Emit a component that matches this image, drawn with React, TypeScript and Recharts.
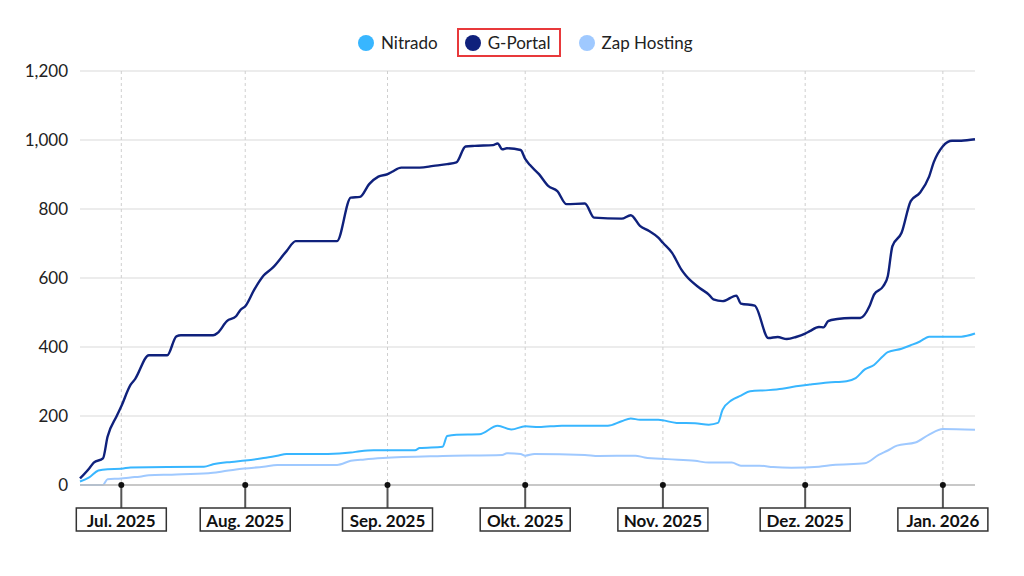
import React from "react";
import { LineChart, Line, XAxis, YAxis, CartesianGrid } from "recharts";

// Day index (collected days since start of series) and values
const gPortalDays = [0, 2, 3, 5, 6, 8, 9, 11, 12, 15, 19, 21, 22, 29, 30, 32, 34, 35, 36, 38, 40, 42, 45, 47, 48, 56, 59, 61, 63, 65, 67, 68, 70, 74, 77, 80, 82, 84, 86, 90, 91, 92, 93, 96, 97, 98, 100, 102, 104, 106, 110, 112, 118, 120, 122, 124, 126, 127, 129, 131, 132, 135, 137, 138, 140, 143, 144, 147, 150, 152, 154, 156, 158, 159, 161, 162, 163, 165, 168, 170, 172, 173, 175, 176, 177, 179, 181, 183, 185, 186, 188, 190, 192, 195];
const gPortalValues = [19, 48, 65, 77, 140, 200, 228, 290, 307, 376, 376, 431, 434, 434, 441, 475, 489, 508, 518, 567, 607, 630, 678, 707, 707, 707, 833, 835, 872, 894, 901, 908, 920, 920, 925, 930, 935, 981, 983, 985, 990, 973, 976, 971, 945, 928, 901, 867, 852, 814, 816, 775, 772, 782, 751, 736, 717, 702, 673, 625, 607, 571, 552, 538, 533, 549, 526, 520, 426, 429, 423, 429, 439, 446, 458, 457, 475, 481, 484, 484, 518, 552, 576, 605, 692, 731, 823, 847, 894, 935, 982, 998, 998, 1002];

const nitradoDays = [0, 2, 4, 6, 9, 11, 27, 29, 33, 36, 40, 43, 45, 54, 59, 61, 64, 73, 74, 79, 80, 82, 87, 91, 94, 97, 100, 105, 115, 118, 120, 122, 126, 130, 134, 137, 139, 140, 142, 144, 146, 150, 153, 156, 159, 163, 167, 169, 171, 173, 175, 176, 179, 181, 183, 185, 192, 195];
const nitradoValues = [10, 22, 42, 46, 47, 51, 53, 60, 67, 71, 78, 85, 90, 90, 94, 98, 101, 101, 107, 111, 142, 146, 147, 172, 161, 170, 168, 172, 172, 185, 193, 189, 189, 180, 179, 175, 180, 218, 246, 259, 272, 275, 279, 286, 291, 297, 301, 310, 335, 348, 374, 385, 395, 405, 416, 430, 430, 439];

const zapDays = [0, 5, 6, 9, 11, 13, 15, 20, 28, 31, 34, 36, 40, 43, 56, 59, 62, 66, 79, 92, 93, 96, 97, 99, 110, 113, 121, 123, 128, 134, 137, 142, 144, 148, 151, 155, 161, 164, 171, 174, 176, 178, 182, 185, 188, 195];
const zapValues = [0, 0, 17, 19, 22, 24, 28, 30, 34, 39, 45, 48, 53, 58, 58, 70, 74, 78, 84, 87, 92, 90, 85, 90, 87, 84, 85, 80, 75, 70, 65, 65, 56, 56, 52, 50, 53, 58, 63, 87, 100, 114, 123, 146, 162, 160];

const monthTickDays = [9, 36, 67, 97, 127, 158, 188];
const monthLabels = ["Jul. 2025", "Aug. 2025", "Sep. 2025", "Okt. 2025", "Nov. 2025", "Dez. 2025", "Jan. 2026"];
const yTicks = [0, 200, 400, 600, 800, 1000, 1200];

const seriesNames = ["Nitrado", "G-Portal", "Zap Hosting"];
const seriesColors = ["#38b6ff", "#0f217c", "#9fc9ff"];

const toData = (days: number[], values: number[]) =>
  days.map((d, i) => ({ d, v: values[i] }));

const nitradoData = toData(nitradoDays, nitradoValues);
const gPortalData = toData(gPortalDays, gPortalValues);
const zapData = toData(zapDays, zapValues);

const FONT = "Lato, 'Open Sans', sans-serif";

const MonthTick = (props: any) => {
  const { x, y, payload } = props;
  const idx = monthTickDays.indexOf(payload.value);
  const label = idx >= 0 ? monthLabels[idx] : "";
  const w = 90;
  return (
    <g>
      <line x1={x} y1={y} x2={x} y2={y + 23} stroke="#555" strokeWidth={2} />
      <circle cx={x} cy={y} r={3} fill="#111" />
      <rect x={x - w / 2} y={y + 23} width={w} height={23} fill="#fff" stroke="#333" strokeWidth={1.5} />
      <text
        x={x}
        y={y + 35}
        textAnchor="middle"
        dominantBaseline="central"
        fontFamily={FONT}
        fontWeight={700}
        fontSize={17}
        fill="#111"
      >
        {label}
      </text>
    </g>
  );
};

const LegendBar = () => (
  <div
    style={{
      position: "absolute",
      left: 358,
      top: 28,
      height: 29,
      display: "flex",
      alignItems: "center",
      fontFamily: FONT,
      fontSize: 17,
      color: "#222",
    }}
  >
    {seriesNames.map((name, i) => {
      const boxed = i === 1;
      return (
        <div
          key={name}
          style={{
            display: "flex",
            alignItems: "center",
            height: 29,
            boxSizing: "border-box",
            padding: boxed ? "0 8px 0 6px" : 0,
            border: boxed ? "2px solid #e8393b" : "none",
            marginRight: i === 0 ? 19 : i === 1 ? 18 : 0,
          }}
        >
          <span
            style={{
              display: "inline-block",
              width: 16,
              height: 16,
              borderRadius: 8,
              background: seriesColors[i],
              marginRight: 7,
            }}
          />
          <span>{name}</span>
        </div>
      );
    })}
  </div>
);

export default function App() {
  return (
    <div style={{ position: "fixed", left: 0, top: 0, width: 1024, height: 576, background: "#fff" }}>
      <LegendBar />
      <LineChart
        width={1024}
        height={576}
        margin={{ top: 71, right: 49, bottom: 0, left: 0 }}
        style={{ position: "absolute", left: 0, top: 0 }}
      >
        <CartesianGrid vertical={false} stroke="#e6e6e6" strokeWidth={1.5} horizontalValues={yTicks} />
        <CartesianGrid
          horizontal={false}
          stroke="#cfcfcf"
          strokeDasharray="3 3"
          strokeWidth={1}
          verticalValues={monthTickDays}
        />
        <XAxis
          type="number"
          dataKey="d"
          domain={[0, 195]}
          ticks={monthTickDays}
          interval={0}
          tickLine={false}
          tickSize={0}
          tickMargin={0}
          axisLine={{ stroke: "#bdbdbd", strokeWidth: 1.5 }}
          tick={<MonthTick />}
          height={91}
          allowDuplicatedCategory={false}
        />
        <YAxis
          type="number"
          domain={[0, 1200]}
          ticks={yTicks}
          width={80}
          axisLine={false}
          tickLine={false}
          tickSize={0}
          tickMargin={12}
          tickFormatter={(v: number) => v.toLocaleString("en-US")}
          tick={{ fontFamily: FONT, fontSize: 17, fill: "#222" }}
        />
        <Line
          data={zapData}
          dataKey="v"
          name={seriesNames[2]}
          type="monotone"
          stroke={seriesColors[2]}
          strokeWidth={2}
          dot={false}
          isAnimationActive={false}
        />
        <Line
          data={nitradoData}
          dataKey="v"
          name={seriesNames[0]}
          type="monotone"
          stroke={seriesColors[0]}
          strokeWidth={2}
          dot={false}
          isAnimationActive={false}
        />
        <Line
          data={gPortalData}
          dataKey="v"
          name={seriesNames[1]}
          type="monotone"
          stroke={seriesColors[1]}
          strokeWidth={2.4}
          dot={false}
          isAnimationActive={false}
        />
      </LineChart>
    </div>
  );
}
